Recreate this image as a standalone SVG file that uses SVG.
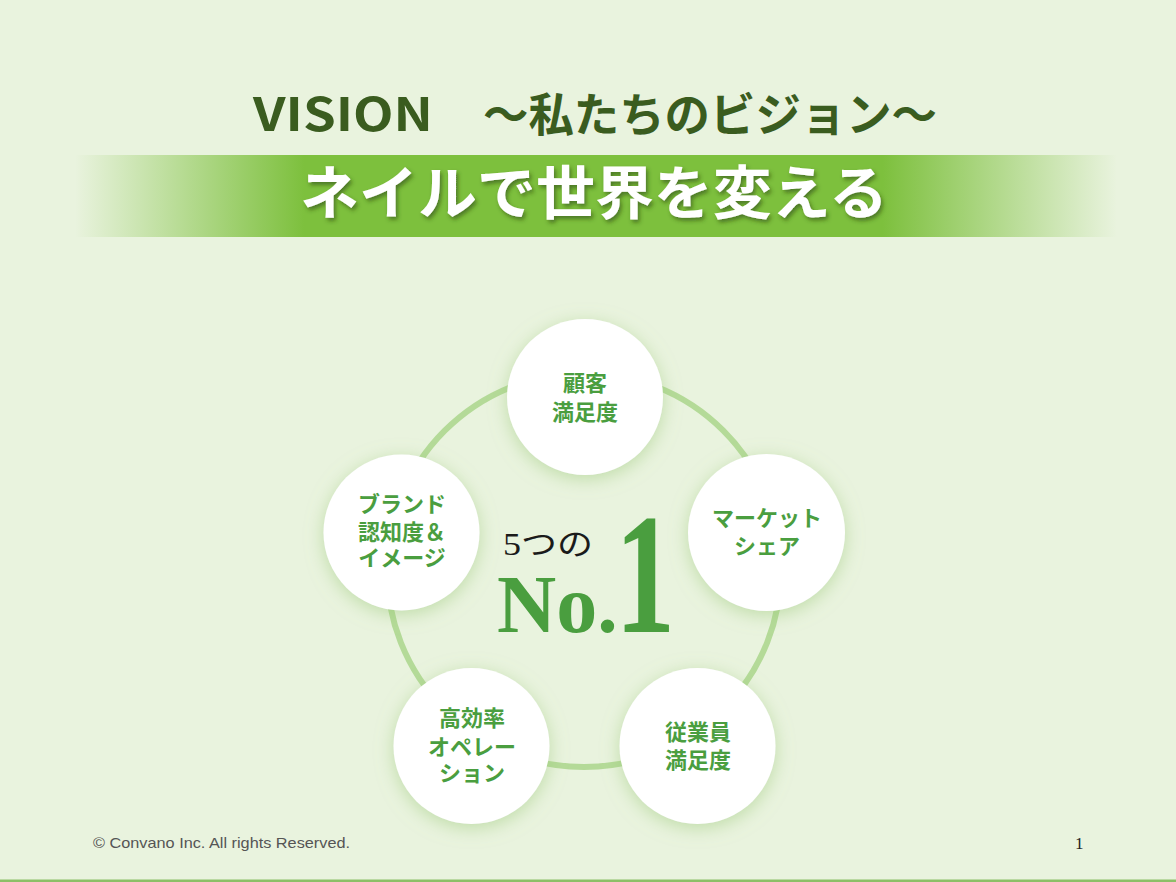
<svg xmlns="http://www.w3.org/2000/svg" width="1176" height="882" viewBox="0 0 1176 882">
<style>
.title{font-family:"Noto Sans CJK JP","Noto Sans",sans-serif;font-weight:bold;font-size:46px;fill:#3a5c1f}
.banner{font-family:"Noto Sans CJK JP",sans-serif;font-weight:bold;font-size:58px;fill:#ffffff}
.lbl{font-family:"Noto Sans CJK JP",sans-serif;font-weight:bold;font-size:22px;fill:#4a9e3f;text-anchor:middle}
.node{fill:#ffffff}
.serif{font-family:"Liberation Serif","Noto Sans CJK JP",serif}
.foot{font-family:"Liberation Sans","DejaVu Sans",sans-serif;font-size:14.5px;fill:#555555}
</style>
<defs>
<linearGradient id="bg" x1="0" y1="0" x2="1" y2="0">
<stop offset="0" stop-color="#7dc03d" stop-opacity="0"/>
<stop offset="0.22" stop-color="#7dc03d" stop-opacity="1"/>
<stop offset="0.775" stop-color="#7dc03d" stop-opacity="1"/>
<stop offset="1" stop-color="#7dc03d" stop-opacity="0"/>
</linearGradient>
<filter id="sh" x="-30%" y="-30%" width="160%" height="160%">
<feDropShadow dx="0" dy="4" stdDeviation="9" flood-color="#9cc97c" flood-opacity="0.55"/>
</filter>
<filter id="tsh" x="-10%" y="-20%" width="120%" height="150%">
<feDropShadow dx="2" dy="3" stdDeviation="2" flood-color="#2d4a14" flood-opacity="0.6"/>
</filter>
</defs>
<rect width="1176" height="882" fill="#e9f3de"/>
<rect x="0" y="879.5" width="1176" height="2.5" fill="#8cbf66"/>

<g id="title">
<text class="title" y="131"><tspan x="253" textLength="180" lengthAdjust="spacingAndGlyphs">VISION</tspan><tspan x="483" textLength="454" lengthAdjust="spacingAndGlyphs">～私たちのビジョン～</tspan></text>
</g>

<g id="banner">
<rect x="75" y="155" width="1042" height="82" fill="url(#bg)"/>
<text class="banner" x="300" y="214" textLength="588" lengthAdjust="spacingAndGlyphs" filter="url(#tsh)">ネイルで世界を変える</text>
</g>

<g id="connectors">
<circle cx="584" cy="570" r="197" fill="none" stroke="#b4da98" stroke-width="6"/>
</g>

<g id="center">
<text class="serif" x="503" y="555" font-size="31" fill="#1a1a1a" textLength="90" lengthAdjust="spacingAndGlyphs">5つの</text>
<text class="serif" x="497" y="632" font-size="82" font-weight="bold" fill="#4a9e3f">No.</text>
<text class="serif" transform="translate(615,632) scale(0.7,1)" font-size="172" font-weight="bold" fill="#4a9e3f">1</text>
</g>

<g id="node-customer">
<circle class="node" cx="585" cy="397" r="78" filter="url(#sh)"/>
<text class="lbl"><tspan x="585" y="391">顧客</tspan><tspan x="585" y="420">満足度</tspan></text>
</g>

<g id="node-market">
<circle class="node" cx="766.5" cy="532.5" r="78.5" filter="url(#sh)"/>
<text class="lbl"><tspan x="767" y="526">マーケット</tspan><tspan x="767" y="554">シェア</tspan></text>
</g>

<g id="node-brand">
<circle class="node" cx="401.5" cy="532.5" r="78" filter="url(#sh)"/>
<text class="lbl"><tspan x="402" y="512">ブランド</tspan><tspan x="402" y="540">認知度＆</tspan><tspan x="402" y="566">イメージ</tspan></text>
</g>

<g id="node-operation">
<circle class="node" cx="471.5" cy="746" r="78" filter="url(#sh)"/>
<text class="lbl"><tspan x="472" y="726">高効率</tspan><tspan x="472" y="755">オペレー</tspan><tspan x="472" y="781">ション</tspan></text>
</g>

<g id="node-employee">
<circle class="node" cx="697.5" cy="746" r="78" filter="url(#sh)"/>
<text class="lbl"><tspan x="698" y="740">従業員</tspan><tspan x="698" y="768">満足度</tspan></text>
</g>

<g id="footer">
<text class="foot" x="93" y="848" textLength="257" lengthAdjust="spacingAndGlyphs">© Convano Inc. All rights Reserved.</text>
<text x="1075" y="849" font-family="Liberation Serif,serif" font-size="17" fill="#222222">1</text>
</g>
</svg>
